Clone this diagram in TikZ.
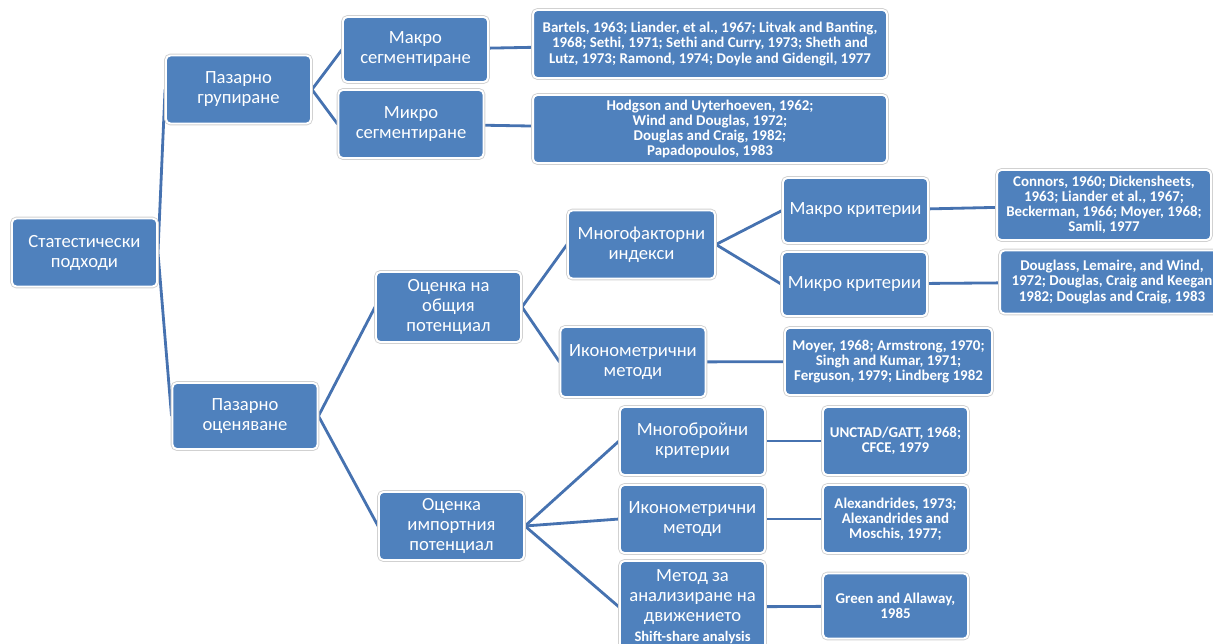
\documentclass[tikz,border=0pt]{standalone}
\usepackage{fontspec}
\setmainfont{Carlito}
\usetikzlibrary{backgrounds}
\definecolor{boxblue}{RGB}{79,129,189}
\definecolor{linkblue}{RGB}{70,114,176}

\begin{document}
\begin{tikzpicture}[x=0.02cm, y=-0.02cm,
            box/.style={fill=boxblue, draw=white, line width=1.1pt,
                    rounded corners=2.5pt,
                    preaction={draw=black!18, line width=2.1pt},
                    minimum width=2.9cm, minimum height=1.36cm, inner sep=0pt,
                    align=center, text=white,
                    font=\fontsize{10.6}{11.4}\selectfont},
            lit/.style={box, font=\fontsize{8.5}{8.6}\selectfont\bfseries},
            link/.style={draw=linkblue, line width=1.6pt}]

        \useasboundingbox (0,0) rectangle (1213,643);
        \clip (0,0) rectangle (1213,643);

        \node[box] (root) at (84.5,252.5) {Статестически\\подходи};
        \node[box] (grp) at (238.5,89.5) {Пазарно\\групиране};
        \node[box, minimum height=1.32cm] (ocn) at (245,416) {Пазарно\\оценяване};

        \node[box, minimum height=1.3cm] (makseg) at (415.5,49.5) {Макро\\сегментиране};
        \node[box] (mikseg) at (411,124) {Микро\\сегментиране};
        \node[lit, minimum width=7.08cm] (litmak) at (710,44)
        {Bartels, 1963; Liander, et al., 1967; Litvak and Banting,\\1968; Sethi, 1971; Sethi and Curry, 1973; Sheth and\\Lutz, 1973; Ramond, 1974; Doyle and Gidengil, 1977};
        \node[lit, minimum width=7.08cm] (litmik) at (710,129)
        {Hodgson and Uyterhoeven, 1962;\\Wind and Douglas, 1972;\\Douglas and Craig, 1982;\\Papadopoulos, 1983};

        \node[box, minimum height=1.4cm] (obsht) at (448.5,307) {Оценка на\\общия\\потенциал};
        \node[box, minimum width=2.94cm] (mnfak) at (641.5,244.5) {Многофакторни\\индекси};
        \node[box, minimum height=1.4cm] (ikon) at (633,362) {Иконометрични\\методи};
        \node[box, minimum height=1.3cm] (makkr) at (855.5,210.5) {Макро критерии};
        \node[box, minimum height=1.28cm] (mikkr) at (854.5,284) {Микро критерии};
        \node[lit, minimum width=4.28cm, minimum height=1.4cm] (litmakkr) at (1104,205)
        {Connors, 1960; Dickensheets,\\1963; Liander et al., 1967;\\Beckerman, 1966; Moyer, 1968;\\Samli, 1977};
        \node[lit, minimum width=4.48cm, minimum height=1.26cm] (litmikkr) at (1112,282)
        {Douglass, Lemaire, and Wind,\\1972; Douglas, Craig and Keegan\\1982; Douglas and Craig, 1983};
        \node[lit, minimum width=4.14cm, minimum height=1.34cm] (litikon) at (888.5,361.5)
        {Moyer, 1968; Armstrong, 1970;\\Singh and Kumar, 1971;\\Ferguson, 1979; Lindberg 1982};

        \node[box] (imp) at (451.5,526) {Оценка\\импортния\\потенциал};
        \node[box] (mnbr) at (692.5,441) {Многобройни\\критерии};
        \node[box] (ikonimp) at (692.5,519) {Иконометрични\\методи};
        \node[box, minimum height=1.84cm] (shift) at (692.5,607)
        {Метод за\\анализиране на\\движението\\{\fontsize{8.3}{8.4}\selectfont\bfseries Shift-share analysis}};
        \node[lit] (litmnbr) at (895.5,441) {UNCTAD/GATT, 1968;\\CFCE, 1979};
        \node[lit] (litikonimp) at (895.5,519) {Alexandrides, 1973;\\Alexandrides and\\Moschis, 1977;};
        \node[lit, minimum height=1.3cm] (litshift) at (895.5,606) {Green and Allaway,\\1985};

        \begin{scope}[on background layer]
            \draw[link] (root.east) -- (grp.west);
            \draw[link] (root.east) -- (ocn.west);
            \draw[link] (grp.east) -- (makseg.west);
            \draw[link] (grp.east) -- (mikseg.west);
            \draw[link] (makseg) -- (litmak);
            \draw[link] (mikseg) -- (litmik);
            \draw[link] (ocn.east) -- (obsht.west);
            \draw[link] (ocn.east) -- (imp.west);
            \draw[link] (obsht.east) -- (mnfak.west);
            \draw[link] (obsht.east) -- (ikon.west);
            \draw[link] (mnfak.east) -- (makkr.west);
            \draw[link] (mnfak.east) -- (mikkr.west);
            \draw[link] (makkr) -- (litmakkr);
            \draw[link] (mikkr) -- (litmikkr);
            \draw[link] (ikon) -- (litikon);
            \draw[link] (imp.east) -- (mnbr.west);
            \draw[link] (imp.east) -- (ikonimp.west);
            \draw[link] (imp.east) -- (shift.west);
            \draw[link] (mnbr) -- (litmnbr);
            \draw[link] (ikonimp) -- (litikonimp);
            \draw[link] (shift) -- (litshift);
        \end{scope}
    \end{tikzpicture}
\end{document}
